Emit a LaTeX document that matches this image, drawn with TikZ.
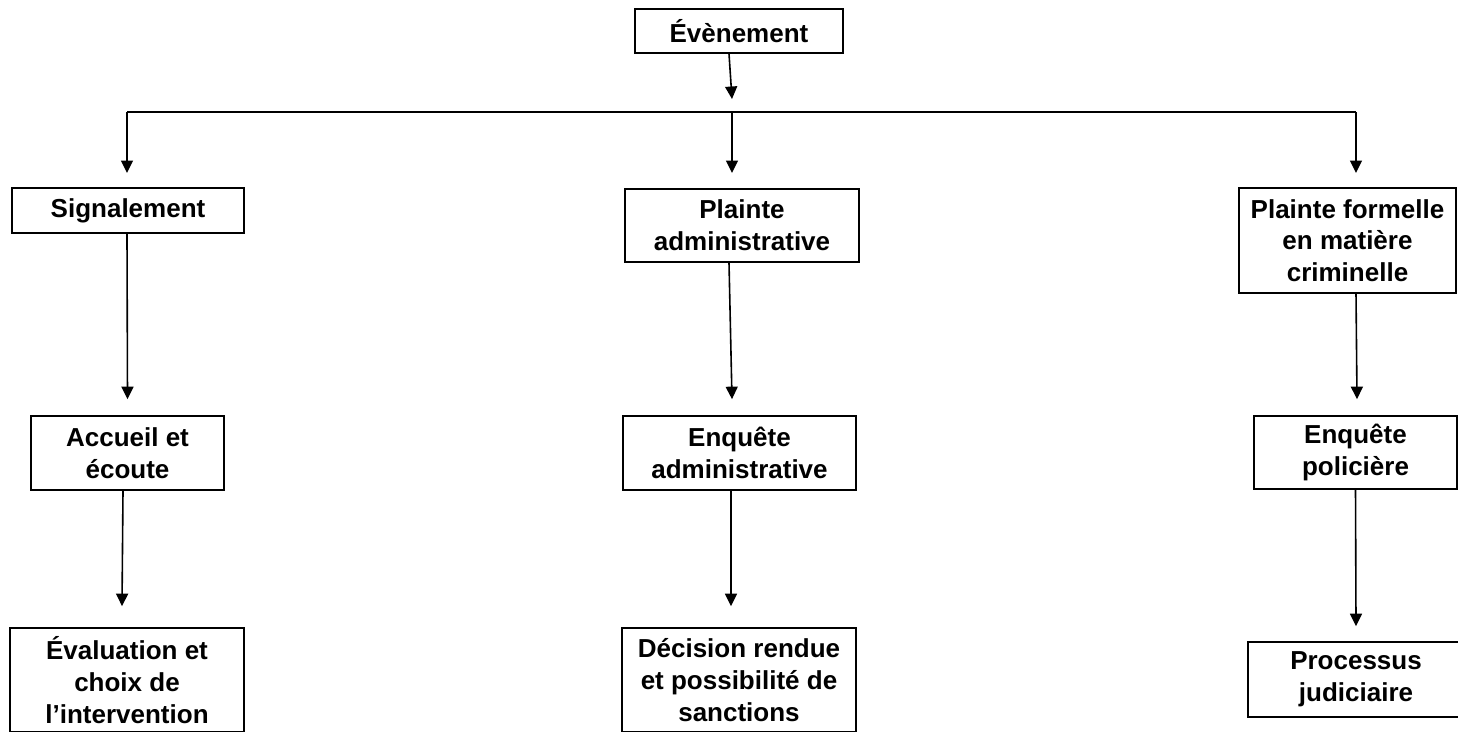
\documentclass[tikz,border=0pt]{standalone}
\usepackage{fontspec}
\setmainfont{Liberation Sans}
\usetikzlibrary{arrows.meta,calc}
\tikzset{
  box/.style={draw=black, line width=1.7pt, rectangle, inner sep=0pt, align=center,
    font=\bfseries\fontsize{26}{31.7}\selectfont},
  arr/.style={line width=1.6pt, -{Triangle[length=12.5pt,width=12pt]}},
  ln/.style={line width=1.6pt}
}
\begin{document}
\begin{tikzpicture}[x=1pt,y=-1pt]
\useasboundingbox (0,0) rectangle (1458,731);
\clip (0,0) rectangle (1458,731);
\fill[white] (0,0) rectangle (1458,731);
% nodes
\node[box, minimum width=208pt, minimum height=44pt] (ev) at (739,31) {Évènement};
\node[box, minimum width=232pt, minimum height=45pt] (sig) at (128,210.5) {Signalement};
\node[box, minimum width=234pt, minimum height=73pt] (pa) at (742,225.5) {Plainte\\administrative};
\node[box, minimum width=217pt, minimum height=105pt] (pf) at (1347.5,240.5) {Plainte formelle\\en matière\\criminelle};
\node[box, minimum width=193pt, minimum height=74pt] (acc) at (127.5,453) {Accueil et\\écoute};
\node[box, minimum width=233pt, minimum height=74pt] (ea) at (739.5,453) {Enquête\\administrative};
\node[box, minimum width=203pt, minimum height=73pt] (ep) at (1355.5,452.5) {Enquête\\policière};
\node[box, minimum width=234pt, minimum height=104pt] (eval) at (127,680) {Évaluation et\\choix de\\l’intervention};
\node[box, minimum width=234pt, minimum height=104pt] (dec) at (739,680) {Décision rendue\\et possibilité de\\sanctions};
\node[box, minimum width=216pt, minimum height=75pt] (proc) at (1356,679.5) {Processus\\judiciaire};
% junction coordinates
\coordinate (jl) at (127,112);
\coordinate (jm) at (732,112);
\coordinate (jr) at (1356,112);
% connectors
\draw[arr] ($(ev.south)+(-10,0)$) -- ($(jm)+(0,-13)$);
\draw[ln] (jl) -- (jr);
\draw[arr] (jl) -- (jl |- 0,173);
\draw[arr] (jm) -- (jm |- 0,173);
\draw[arr] (jr) -- (jr |- 0,173);
\draw[arr] ($(sig.south)+(-1,0)$) -- ($(acc.north)+(0,-16)$);
\draw[arr] ($(pa.south)+(-13,0)$) -- ($(ea.north)+(-7.5,-16)$);
\draw[arr] ($(pf.south)+(8.5,0)$) -- ($(ep.north)+(1.5,-16)$);
\draw[arr] ($(acc.south)+(-4.5,0)$) -- ($(eval.north)+(-5,-21)$);
\draw[arr] ($(ea.south)+(-8.5,0)$) -- ($(dec.north)+(-8,-21)$);
\draw[arr] (ep.south) -- ($(proc.north)+(0,-15)$);
\end{tikzpicture}
\end{document}
